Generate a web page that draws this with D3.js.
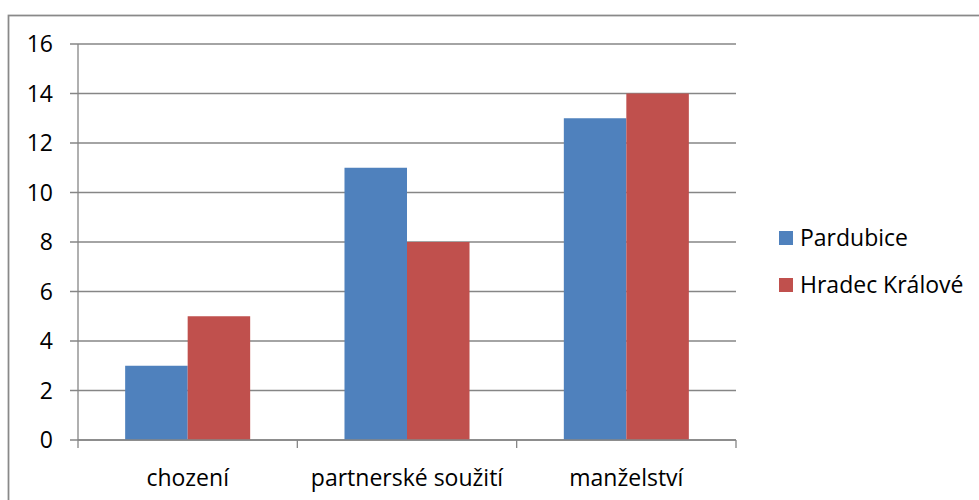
<!DOCTYPE html>
<html><head><meta charset="utf-8">
<script src="https://cdn.jsdelivr.net/npm/d3@7"></script>
<style>body{margin:0;background:#fff;} svg{display:block;font-family:"Open Sans","Liberation Sans",sans-serif;}</style>
</head><body>
<svg id="c" width="979" height="500"></svg>
<script>
const categories = ["chození", "partnerské soužití", "manželství"];
const seriesNames = ["Pardubice", "Hradec Králové"];
const pardubice = [3, 11, 13];
const hradec = [5, 8, 14];
const yTicks = [0, 2, 4, 6, 8, 10, 12, 14, 16];
const colors = ["#4F81BD", "#C0504D"];

const svg = d3.select("#c");
// outer border
svg.append("rect").attr("x", 8.5).attr("y", 15.5).attr("width", 1000).attr("height", 1000)
  .attr("fill", "none").attr("stroke", "#898989").attr("stroke-width", 1.75);

const L = 78, R = 736, T = 44, B = 440;
const x = d3.scaleBand().domain(categories).range([L, R]).paddingInner(0).paddingOuter(0);
const y = d3.scaleLinear().domain([0, 16]).range([B, T]);
const groupW = x.bandwidth() * 0.57;
const xs = d3.scaleBand().domain(seriesNames).range([0, groupW]);

// gridlines
svg.append("g").selectAll("line").data(yTicks).join("line")
  .attr("x1", L - 8).attr("x2", R).attr("y1", d => y(d)).attr("y2", d => y(d))
  .attr("stroke", "#868686").attr("stroke-width", 1.3);

// bars
const series = [pardubice, hradec];
series.forEach((vals, si) => {
  svg.append("g").selectAll("rect").data(vals).join("rect")
    .attr("x", (d, i) => x(categories[i]) + (x.bandwidth() - groupW) / 2 + xs(seriesNames[si]))
    .attr("width", xs.bandwidth())
    .attr("y", d => y(d)).attr("height", d => B - y(d))
    .attr("fill", colors[si]);
});

// y axis line
svg.append("line").attr("x1", L).attr("x2", L).attr("y1", T).attr("y2", B)
  .attr("stroke", "#868686").attr("stroke-width", 1.3);
// x axis line + ticks
svg.append("line").attr("x1", L).attr("x2", R).attr("y1", B).attr("y2", B)
  .attr("stroke", "#868686").attr("stroke-width", 1.3);
const bounds = categories.map(c => x(c)).concat([R]);
svg.append("g").selectAll("line").data(bounds).join("line")
  .attr("x1", d => d).attr("x2", d => d).attr("y1", B).attr("y2", B + 8)
  .attr("stroke", "#868686").attr("stroke-width", 1.3);

// y labels
svg.append("g").selectAll("text").data(yTicks).join("text")
  .attr("x", 53).attr("y", d => y(d)).attr("dy", "0.35em").attr("text-anchor", "end")
  .style("font-size", "23px").attr("fill", "#000").text(d => d);

// x labels
svg.append("g").selectAll("text").data(categories).join("text")
  .attr("x", d => x(d) + x.bandwidth() / 2).attr("y", 478).attr("dy", "0.35em")
  .attr("text-anchor", "middle").style("font-size", "23px").attr("fill", "#000").text(d => d);

// legend
const leg = svg.append("g").selectAll("g").data(seriesNames).join("g")
  .attr("transform", (d, i) => `translate(779,${238 + i * 47})`);
leg.append("rect").attr("x", 0).attr("y", -7).attr("width", 14).attr("height", 14)
  .attr("fill", (d, i) => colors[i]);
leg.append("text").attr("x", 21).attr("y", 0).attr("dy", "0.35em")
  .style("font-size", "23px").attr("fill", "#000").text(d => d);
</script>
</body></html>
